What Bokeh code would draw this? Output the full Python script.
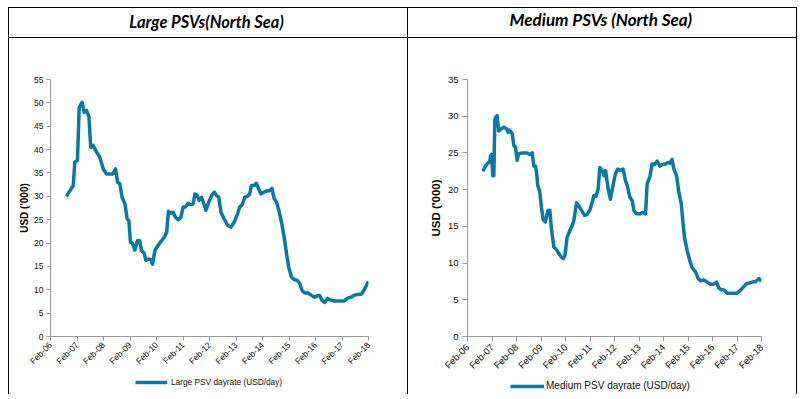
import math
from bokeh.plotting import figure
from bokeh.models import Range1d, FixedTicker, Legend, LegendItem
from bokeh.layouts import row, column
from bokeh.core.properties import value
from bokeh.embed import file_html
from bokeh.resources import INLINE

# ---------------- data ----------------
tick_months = [0, 12, 24, 36, 48, 60, 72, 84, 96, 108, 120, 132, 144]
tick_labels = ["Feb-06", "Feb-07", "Feb-08", "Feb-09", "Feb-10", "Feb-11", "Feb-12",
               "Feb-13", "Feb-14", "Feb-15", "Feb-16", "Feb-17", "Feb-18"]

# months after Feb-06, Large PSV dayrate (USD '000)
large_months = [7.2, 10.3, 11.0, 12.2, 13.0, 14.3, 15.2, 16.3, 17.4, 18.2, 19.3, 20.9, 22.3, 23.9,
                25.3, 28.3, 29.4, 30.4, 31.4, 32.4, 33.7, 34.7, 35.5, 36.2, 37.1, 38.2, 39.4, 40.4,
                41.2, 42.4, 43.2, 44.3, 45.5, 46.2, 47.3, 48.7, 50.3, 51.7, 52.6, 53.4, 54.5, 55.6,
                56.6, 57.8, 59.0, 60.1, 61.1, 62.3, 63.6, 64.6, 65.4, 66.4, 67.3, 68.4, 69.5, 70.3,
                71.4, 73.0, 74.2, 75.1, 76.2, 77.2, 78.6, 80.2, 81.7, 83.2, 84.7, 85.7, 86.8, 88.0,
                89.2, 90.2, 91.0, 92.3, 93.2, 94.3, 95.3, 96.7, 98.3, 99.4, 100.3, 101.3, 102.4,
                103.4, 104.6, 105.8, 106.9, 107.9, 109.1, 110.3, 111.8, 112.9, 114.0, 115.2, 116.6,
                118.2, 119.6, 121.0, 121.9, 123.0, 124.2, 125.4, 127.0, 128.4, 130.0, 131.8, 133.0,
                134.5, 136.0, 137.5, 139.0, 140.9, 142.3, 144.0]
large_values = [30.0, 32.3, 37.3, 37.7, 49.0, 50.1, 48.0, 48.4, 47.0, 40.5, 40.9, 39.4, 38.4, 35.9,
                34.8, 34.8, 35.9, 33.0, 32.7, 29.8, 28.4, 25.2, 24.8, 20.2, 20.0, 18.5, 20.5, 20.5,
                18.4, 17.8, 16.3, 16.6, 16.4, 15.5, 18.4, 19.5, 20.5, 21.4, 22.3, 26.8, 26.4, 26.6,
                25.5, 25.0, 25.5, 27.7, 27.7, 28.5, 28.2, 28.4, 30.5, 30.2, 29.1, 29.8, 28.4, 27.0,
                28.4, 30.2, 30.9, 30.2, 29.8, 26.6, 25.2, 23.8, 23.4, 24.5, 26.2, 27.7, 28.2, 29.8,
                30.0, 30.5, 32.3, 32.3, 32.8, 31.6, 30.5, 30.9, 31.2, 31.2, 31.7, 29.5, 28.7,
                27.0, 24.5, 21.3, 17.7, 14.8, 12.7, 12.2, 12.0, 11.3, 9.8, 9.3, 9.3,
                8.8, 8.4, 8.8, 8.8, 7.7, 7.3, 8.1, 7.8, 7.6, 7.6, 7.6, 7.6,
                8.2, 8.4, 8.8, 9.0, 9.1, 10.2, 11.8]

# months after Feb-06, Medium PSV dayrate (USD '000)
medium_months = [7.5, 8.8, 10.0, 10.9, 11.3, 11.8, 12.4, 12.9, 13.4, 14.5, 15.3, 16.5, 17.8, 19.1,
                 19.9, 20.7, 21.9, 22.7, 23.5, 24.3, 25.1, 26.8, 29.2, 30.5, 31.7, 32.5, 33.3, 33.8,
                 34.4, 35.4, 36.2, 37.1, 38.2, 39.3, 40.3, 41.1, 42.3, 43.6, 44.7, 46.0, 46.9, 47.7,
                 48.8, 50.1, 51.3, 52.1, 53.4, 54.5, 55.8, 57.3, 58.6, 59.9, 61.1, 61.9, 63.0, 64.0,
                 64.8, 66.0, 66.8, 67.6, 68.9, 70.0, 71.3, 72.5, 73.6, 74.9, 76.2, 77.4, 78.2, 79.5,
                 80.7, 81.5, 82.8, 84.4, 86.0, 87.2, 88.0, 89.3, 90.4, 91.6, 92.9, 94.2, 95.3, 97.0,
                 98.1, 99.1, 100.2, 101.1, 102.4, 103.5, 104.7, 105.6, 106.4, 107.6, 108.9, 110.0,
                 111.7, 113.0, 114.1, 115.8, 117.4, 119.0, 120.3, 122.0, 123.1, 124.2, 125.9, 127.2,
                 128.8, 130.4, 132.1, 133.7, 135.3, 136.7, 138.3, 139.4, 141.1, 142.7, 144.0]
medium_values = [22.5, 23.2, 23.6, 23.8, 24.6, 24.8, 21.9, 21.9, 29.6, 30.1, 28.0, 28.3, 28.5, 28.3,
                 27.8, 28.1, 27.6, 26.0, 25.8, 24.0, 24.9, 25.0, 25.0, 24.8, 25.0, 23.2, 23.2, 22.4,
                 20.6, 19.7, 17.6, 15.9, 15.6, 17.1, 17.2, 14.7, 12.2, 11.8, 11.3, 10.8, 10.6, 11.0,
                 13.5, 14.4, 15.1, 15.8, 18.2, 17.8, 17.2, 16.5, 16.6, 17.2, 18.3, 19.2, 19.1, 20.1,
                 23.0, 22.6, 21.9, 22.6, 20.1, 18.7, 20.6, 22.2, 22.8, 22.6, 22.8, 21.2, 20.6, 19.0,
                 18.5, 17.2, 16.7, 16.7, 16.9, 16.7, 20.8, 21.7, 23.5, 23.4, 23.9, 23.2, 23.4, 23.5,
                 23.7, 23.6, 24.1, 22.8, 21.9, 19.7, 18.1, 15.3, 13.3, 11.7, 10.3, 9.4,
                 8.8, 7.9, 7.6, 7.7, 7.4, 7.1, 7.1, 7.4, 6.6, 6.4, 6.3, 5.9,
                 5.9, 5.9, 5.9, 6.3, 6.8, 7.2, 7.3, 7.4, 7.5, 7.9, 7.5]

large_yticks = [0, 5, 10, 15, 20, 25, 30, 35, 40, 45, 50, 55]
medium_yticks = [0, 5, 10, 15, 20, 25, 30, 35]

LINE = "#0878a4"
AXIS = "#9a9a9a"
LW = 3.5
NAN = float("nan")


def bare_fig(width, height, styles):
    f = figure(width=width, height=height, x_range=Range1d(0, 1), y_range=Range1d(0, 1),
               min_border=0, toolbar_location=None, x_axis_location=None,
               y_axis_location=None, output_backend="svg", outline_line_color=None,
               styles=styles)
    f.grid.visible = False
    return f


def title_fig(text, width, fsize, xpos, ypos, styles):
    t = bare_fig(width, 31, styles)
    t.text(x=[xpos], y=[ypos], text=[text], text_align="center", text_baseline="middle",
           text_font=value("Lato"), text_font_style="bold italic", text_font_size=fsize,
           text_color="black")
    return t


def legend_fig(label, width, fs, glyph_w, standoff, lx, ly, styles):
    f = bare_fig(width, 17, styles)
    # legend key only: a line renderer with no drawable point, styled like the series
    r = f.line(x=[NAN], y=[NAN], line_color=LINE, line_width=LW)
    leg = Legend(items=[LegendItem(label=label, renderers=[r])], location=(lx, ly),
                 padding=0, margin=0, border_line_color=None, background_fill_alpha=0,
                 glyph_width=glyph_w, glyph_height=10, label_height=10,
                 label_standoff=standoff, label_text_font="Liberation Sans",
                 label_text_font_size=fs, label_text_color="#111111")
    f.add_layout(leg)
    return f


def chart(months, vals, yticks, width, bl, br, fs_tick, fs_lab,
          tick_out, lab_standoff, ax_standoff, styles):
    p = figure(width=width, height=339, x_range=Range1d(0, 144),
               y_range=Range1d(0, yticks[-1]), toolbar_location=None, output_backend="svg",
               min_border_left=bl, min_border_right=br, min_border_top=41,
               min_border_bottom=41, outline_line_color=None, styles=styles)
    p.grid.visible = False
    p.line(months, vals, line_color=LINE, line_width=LW, line_join="round")
    for ax in (p.xaxis[0], p.yaxis[0]):
        ax.axis_line_color = AXIS
        ax.major_tick_line_color = AXIS
        ax.minor_tick_line_color = None
        ax.major_tick_out = tick_out
        ax.major_tick_in = 0
        ax.major_label_text_font = "Liberation Sans"
        ax.major_label_text_font_size = fs_tick
        ax.major_label_text_color = "#111111"
        ax.major_label_standoff = lab_standoff
    p.xaxis.ticker = FixedTicker(ticks=tick_months)
    p.xaxis.major_label_overrides = {m: l for m, l in zip(tick_months, tick_labels)}
    p.xaxis.major_label_orientation = math.pi / 4
    p.yaxis.ticker = FixedTicker(ticks=yticks)
    p.yaxis.axis_label = "USD ('000)"
    p.yaxis.axis_label_text_font = "Liberation Sans"
    p.yaxis.axis_label_text_font_style = "bold"
    p.yaxis.axis_label_text_font_size = fs_lab
    p.yaxis.axis_label_text_color = "black"
    p.yaxis.axis_label_standoff = ax_standoff
    return p


B = "1px solid black"
S1 = {"border-left": B, "border-right": B, "box-sizing": "border-box"}
S2 = {"border-right": B, "box-sizing": "border-box"}

# plot frames are aligned within each column, so the title / legend figures share the
# chart's frame; positions below are relative to that frame
t1 = title_fig("Large PSVs(North Sea)", 400, "16.5px", 0.4906, 0.565,
               {"border-left": B, "border-top": B, "border-bottom": B, "border-right": B,
                "box-sizing": "border-box"})
t2 = title_fig("Medium PSVs (North Sea)", 389, "17px", 0.4536, 0.65,
               {"border-top": B, "border-bottom": B, "border-right": B,
                "box-sizing": "border-box"})
c1 = chart(large_months, large_values, large_yticks, 400, 41, 41, "8.5px", "10px",
           4, 3, 1, S1)
c2 = chart(medium_months, medium_values, medium_yticks, 389, 59, 36, "9.5px", "11.5px",
           5, 4, 3, S2)
l1 = legend_fig("Large PSV dayrate (USD/day)", 400, "8.3px", 32, 4, 85, 7, S1)
l2 = legend_fig("Medium PSV dayrate (USD/day)", 389, "10px", 34, 2, 43, 3, S2)

layout = row(column(t1, c1, l1), column(t2, c2, l2), margin=(7, 0, 0, 8))
open("out.html", "w").write(file_html(layout, INLINE))
